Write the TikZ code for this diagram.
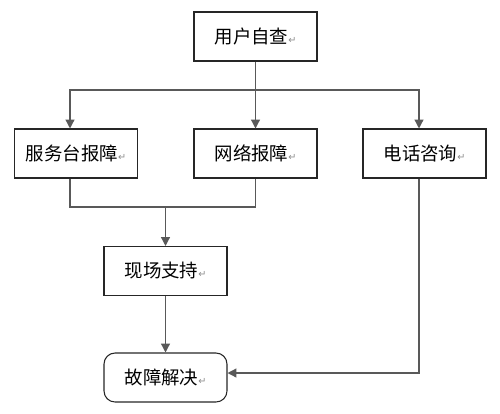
\documentclass[tikz,border=0pt]{standalone}
\usepackage{fontspec}
\usepackage{xcolor}
\newfontfamily\cjk{Noto Sans CJK SC}
\newfontfamily\symb{DejaVu Sans}
\usetikzlibrary{arrows.meta,positioning}
\newcommand{\ret}{\textcolor{black!45}{\symb\fontsize{5.5}{6}\selectfont ↵}}
\tikzset{%
	process/.style = {draw=black!85, rectangle, line width=0.6pt, minimum width=2.46cm, minimum height=0.98cm, text centered, font=\cjk\fontsize{10.5}{12}\selectfont},
	endbox/.style  = {process, rounded corners=0.22cm},
	link/.style    = {draw=black!65, line width=0.75pt},
	arrow/.style   = {link, -{Triangle[length=5pt,width=5pt]}},
}
\begin{document}
\begin{tikzpicture}[x=0.02cm,y=-0.02cm]
	\useasboundingbox (0,0) rectangle (500,413);
	% boxes
	\node[process] (yh) at (255.5,36.5) {用户自查\ret};
	\node[process] (fwt) at (76,153.5) {服务台报障\ret};
	\node[process] (wl) at (255.5,153.5) {网络报障\ret};
	\node[process] (dh) at (424.5,153.5) {电话咨询\ret};
	\node[process] (xc) at (165.5,271) {现场支持\ret};
	\node[endbox] (jj) at (165.5,377.5) {故障解决\ret};
	% branch points
	\coordinate (split) at (255.5,90);
	\coordinate (merge) at (165.5,207);
	% connectors
	\draw[arrow] (yh) -- (wl);
	\draw[arrow] (split) -| ([xshift=-0.12cm]fwt.north);
	\draw[arrow] (split) -| ([xshift=-0.11cm]dh.north);
	\draw[link] ([xshift=-0.12cm]fwt.south) |- (merge) -| (wl.south);
	\draw[arrow] (merge) -- (xc);
	\draw[arrow] (xc) -- (jj);
	\draw[arrow] ([xshift=-0.11cm]dh.south) |- ([yshift=0.09cm]jj.east);
\end{tikzpicture}
\end{document}
